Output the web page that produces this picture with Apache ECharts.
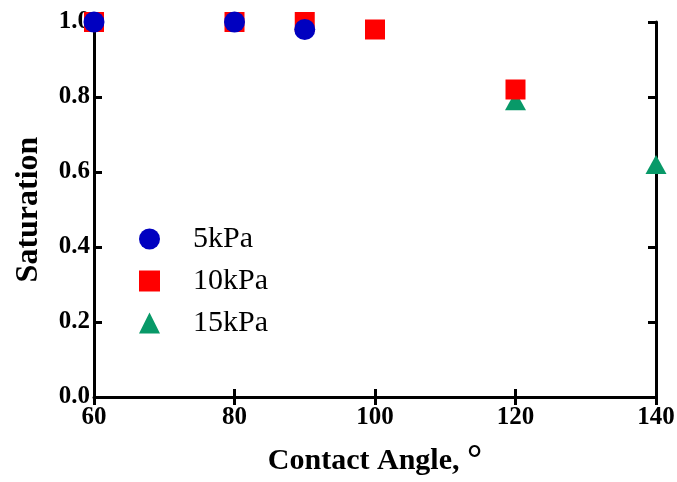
<!DOCTYPE html>
<html>
<head>
<meta charset="utf-8">
<style>
  html, body { margin: 0; padding: 0; background: #fff; }
  #chart { width: 677px; height: 482px; }
</style>
<script src="https://cdn.jsdelivr.net/npm/echarts@6/dist/echarts.min.js"></script>
</head>
<body>
<div id="chart"></div>
<script>
// Saturation vs. contact angle at three applied pressures
const angles5kPa = [60, 80, 90];
const sat5kPa = [1.0, 1.0, 0.98];
const angles10kPa = [60, 80, 90, 100, 120];
const sat10kPa = [1.0, 1.0, 1.0, 0.98, 0.82];
const angles15kPa = [120, 140];
const sat15kPa = [0.79, 0.62];
const seriesNames = ['5kPa', '10kPa', '15kPa'];

const pairs = (xs, ys) => xs.map((x, i) => [x, ys[i]]);

const serif = '"Liberation Serif", "DejaVu Serif", serif';
const tickLabel = { color: '#000', fontFamily: serif, fontWeight: 'bold', fontSize: 25 };

const chart = echarts.init(document.getElementById('chart'), null, { renderer: 'canvas' });

const axisLine = { show: true, lineStyle: { color: '#000', width: 3 } };
const tickIn = { show: true, inside: true, length: 8, lineStyle: { color: '#000', width: 3 } };

chart.setOption({
  animation: false,
  backgroundColor: '#fff',
  grid: { left: 94, right: 21, top: 22, bottom: 85, containLabel: false, outerBoundsMode: 'none' },
  legend: {
    orient: 'vertical',
    left: 139,
    top: 224,
    padding: 0,
    itemWidth: 21,
    itemHeight: 21,
    itemGap: 12,
    data: [
      { name: '5kPa', icon: 'circle' },
      { name: '10kPa', icon: 'rect' },
      { name: '15kPa', icon: 'triangle' }
    ],
    textStyle: { color: '#000', fontFamily: serif, fontSize: 30, padding: [0, 0, 0, 28] }
  },
  xAxis: [
    {
      type: 'value', min: 60, max: 140, interval: 20, position: 'bottom',
      axisLine: axisLine, axisTick: tickIn, splitLine: { show: false },
      axisLabel: Object.assign({ margin: 8 }, tickLabel),
      name: 'Contact Angle, {d|°}', nameLocation: 'middle', nameGap: 45,
      nameTextStyle: {
        color: '#000', fontFamily: serif, fontWeight: 'bold', fontSize: 30,
        rich: { d: { fontFamily: serif, fontSize: 38, fontWeight: 'bold', color: '#000', padding: [0, 0, 0, 0] } }
      }
    },
    {
      type: 'value', min: 60, max: 140, interval: 20, position: 'top',
      axisLine: { show: true, lineStyle: { color: '#000', width: 2 } },
      axisTick: tickIn, axisLabel: { show: false }, splitLine: { show: false }
    }
  ],
  yAxis: [
    {
      type: 'value', min: 0, max: 1, interval: 0.2, position: 'left',
      axisLine: axisLine, axisTick: tickIn, splitLine: { show: false },
      axisLabel: Object.assign({ margin: 4, formatter: v => v.toFixed(1) }, tickLabel),
      name: 'Saturation', nameLocation: 'middle', nameGap: 49, nameRotate: 90,
      nameTextStyle: { color: '#000', fontFamily: serif, fontWeight: 'bold', fontSize: 32 }
    },
    {
      type: 'value', min: 0, max: 1, interval: 0.2, position: 'right',
      axisLine: axisLine, axisTick: tickIn, axisLabel: { show: false }, splitLine: { show: false }
    }
  ],
  series: [
    {
      name: seriesNames[0], type: 'scatter', symbol: 'circle', symbolSize: 21, z: 5,
      itemStyle: { color: '#0000C0', opacity: 1 },
      data: pairs(angles5kPa, sat5kPa)
    },
    {
      name: seriesNames[1], type: 'scatter', symbol: 'rect', symbolSize: 20, z: 4,
      itemStyle: { color: '#FF0000', opacity: 1 },
      data: pairs(angles10kPa, sat10kPa)
    },
    {
      name: seriesNames[2], type: 'scatter', symbol: 'triangle', symbolSize: [21, 19], z: 3,
      itemStyle: { color: '#089968', opacity: 1 },
      data: pairs(angles15kPa, sat15kPa)
    }
  ]
});
</script>
</body>
</html>
